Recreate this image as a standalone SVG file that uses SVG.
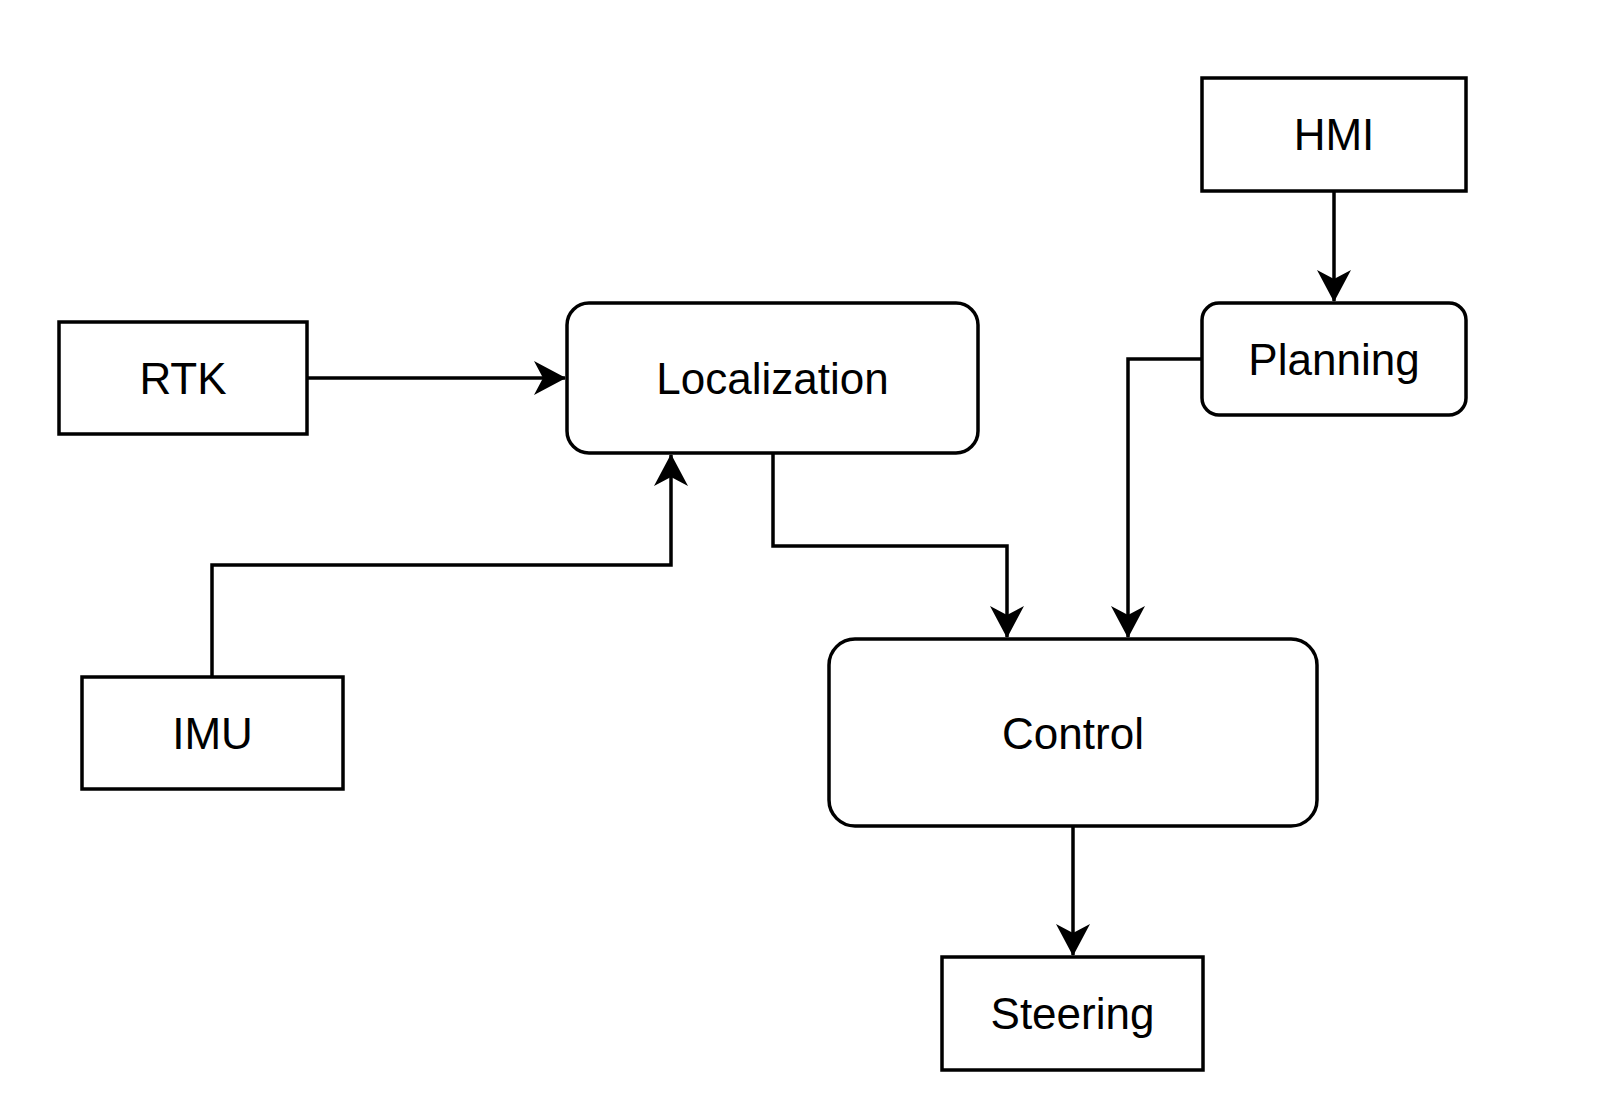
<svg xmlns="http://www.w3.org/2000/svg" width="1599" height="1106" viewBox="0 0 1599 1106">
<style>
.box{fill:#fff;stroke:#000;stroke-width:3.5}
.lbl{font-family:"Liberation Sans",Arial,sans-serif;font-size:44px;fill:#000;text-anchor:middle}
.edge{fill:none;stroke:#000;stroke-width:3.5}
</style>
<defs>
<marker id="arr" markerUnits="userSpaceOnUse" markerWidth="34" markerHeight="34" viewBox="0 0 32 34" refX="31" refY="17" orient="auto">
<path d="M0,0 L32,17 L0,34 L9,17 Z" fill="#000"/>
</marker>
</defs>
<rect width="1599" height="1106" fill="#fff"/>
<g id="connectors">
<path class="edge" d="M307,378 L565,378" marker-end="url(#arr)"/>
<path class="edge" d="M212,677 L212,565 L671,565 L671,455" marker-end="url(#arr)"/>
<path class="edge" d="M773,453 L773,546 L1007,546 L1007,637" marker-end="url(#arr)"/>
<path class="edge" d="M1202,359 L1128,359 L1128,637" marker-end="url(#arr)"/>
<path class="edge" d="M1334,191 L1334,301" marker-end="url(#arr)"/>
<path class="edge" d="M1073,826 L1073,955" marker-end="url(#arr)"/>
</g>
<g id="rtk">
<rect class="box" x="59" y="322" width="248" height="112"/>
<text class="lbl" x="183" y="394">RTK</text>
</g>
<g id="localization">
<rect class="box" x="567" y="303" width="411" height="150" rx="22" ry="22"/>
<text class="lbl" x="772.5" y="394">Localization</text>
</g>
<g id="imu">
<rect class="box" x="82" y="677" width="261" height="112"/>
<text class="lbl" x="212.5" y="749">IMU</text>
</g>
<g id="hmi">
<rect class="box" x="1202" y="78" width="264" height="113"/>
<text class="lbl" x="1334" y="150">HMI</text>
</g>
<g id="planning">
<rect class="box" x="1202" y="303" width="264" height="112" rx="17" ry="17"/>
<text class="lbl" x="1334" y="375">Planning</text>
</g>
<g id="control">
<rect class="box" x="829" y="639" width="488" height="187" rx="26" ry="26"/>
<text class="lbl" x="1073" y="749">Control</text>
</g>
<g id="steering">
<rect class="box" x="942" y="957" width="261" height="113"/>
<text class="lbl" x="1072.5" y="1029">Steering</text>
</g>
</svg>
